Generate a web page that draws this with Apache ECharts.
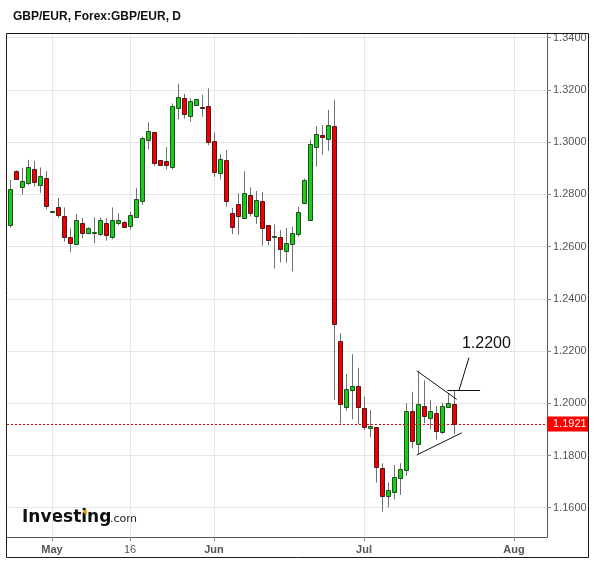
<!DOCTYPE html>
<html><head><meta charset="utf-8">
<script src="https://cdn.jsdelivr.net/npm/echarts@6/dist/echarts.min.js"></script>
<style>html,body{margin:0;padding:0;background:#fff}#c{width:598px;height:562px}</style>
</head><body><div id="c"></div>
<script>
const dates = ['2016-04-22','2016-04-24','2016-04-25','2016-04-26','2016-04-27','2016-04-28','2016-04-29',
'2016-05-01','2016-05-02','2016-05-03','2016-05-04','2016-05-05','2016-05-06',
'2016-05-08','2016-05-09','2016-05-10','2016-05-11','2016-05-12','2016-05-13',
'2016-05-15','2016-05-16','2016-05-17','2016-05-18','2016-05-19','2016-05-20',
'2016-05-22','2016-05-23','2016-05-24','2016-05-25','2016-05-26','2016-05-27',
'2016-05-29','2016-05-30','2016-05-31','2016-06-01','2016-06-02','2016-06-03',
'2016-06-05','2016-06-06','2016-06-07','2016-06-08','2016-06-09','2016-06-10',
'2016-06-12','2016-06-13','2016-06-14','2016-06-15','2016-06-16','2016-06-17',
'2016-06-19','2016-06-20','2016-06-21','2016-06-22','2016-06-23','2016-06-24',
'2016-06-27','2016-06-28','2016-06-29','2016-06-30','2016-07-01',
'2016-07-03','2016-07-04','2016-07-05','2016-07-06','2016-07-07','2016-07-08',
'2016-07-11','2016-07-12','2016-07-13','2016-07-14','2016-07-15',
'2016-07-17','2016-07-18','2016-07-19','2016-07-20',
'2016-07-21','2016-07-22','2016-07-24','2016-07-25','2016-07-26','2016-07-27','2016-07-28','2016-07-29',
'2016-07-31','2016-08-01','2016-08-02','2016-08-03','2016-08-04','2016-08-05','2016-08-07'];

const open  = [1.2684,1.2891,1.2830,1.2845,1.2899,1.2835,1.2861,1.2734,1.2753,1.2716,1.2636,1.2609,1.2689,1.2651,1.2651,1.2648,1.2692,1.2638,1.2692,1.2696,1.2680,1.2712,1.2776,1.3007,1.3037,1.2930,1.2927,1.2903,1.3130,1.3168,1.3099,1.3143,1.3134,1.3139,1.3003,1.2880,1.2930,1.2728,1.2765,1.2711,1.2796,1.2719,1.2773,1.2681,1.2637,1.2636,1.2585,1.2609,1.2647,1.2768,1.2700,1.2980,1.3026,1.3011,1.3060,1.2238,1.1984,1.2049,1.2066,1.1980,1.1904,1.1908,1.1751,1.1644,1.1661,1.1713,1.1743,1.1969,1.1843,1.1991,1.1942,1.1961,1.1889,1.1987,1.1996];
const high  = [1.2855,1.2892,1.2902,1.2932,1.2928,1.2903,1.2889,1.2737,1.2786,1.2750,1.2670,1.2725,1.2709,1.2674,1.2712,1.2711,1.2709,1.2750,1.2728,1.2699,1.2733,1.2825,1.3021,1.3075,1.3038,1.2931,1.2981,1.3148,1.3223,1.3185,1.3168,1.3165,1.3181,1.3206,1.3037,1.2954,1.2969,1.2748,1.2804,1.2889,1.2827,1.2813,1.2809,1.2682,1.2685,1.2663,1.2671,1.2676,1.2752,1.2861,1.3008,1.3061,1.3065,1.3123,1.3162,1.2268,1.2112,1.2188,1.2136,1.2025,1.1974,1.1908,1.1770,1.1696,1.1763,1.1770,1.2000,1.2044,1.2123,1.2088,1.2012,1.1989,1.2002,1.2038,1.2050];
const low   = [1.2673,1.2856,1.2799,1.2835,1.2830,1.2806,1.2743,1.2733,1.2709,1.2619,1.2579,1.2608,1.2632,1.2647,1.2613,1.2641,1.2623,1.2628,1.2682,1.2676,1.2665,1.2712,1.2760,1.2973,1.2910,1.2910,1.2896,1.2896,1.3087,1.3090,1.3078,1.3142,1.3097,1.2988,1.2867,1.2857,1.2753,1.2648,1.2646,1.2707,1.2715,1.2687,1.2604,1.2604,1.2516,1.2539,1.2539,1.2505,1.2638,1.2763,1.2700,1.2906,1.2952,1.2967,1.2012,1.1923,1.1971,1.1939,1.1919,1.1898,1.1869,1.1696,1.1585,1.1602,1.1632,1.1649,1.1722,1.1827,1.1805,1.1923,1.1900,1.1861,1.1882,1.1987,1.1882];
const close = [1.2819,1.2857,1.2851,1.2903,1.2846,1.2869,1.2754,1.2736,1.2720,1.2638,1.2612,1.2700,1.2651,1.2670,1.2654,1.2700,1.2646,1.2700,1.2701,1.2676,1.2720,1.2781,1.3015,1.3041,1.2919,1.2913,1.2911,1.3138,1.3172,1.3108,1.3156,1.3164,1.3132,1.3001,1.2884,1.2934,1.2773,1.2674,1.2716,1.2804,1.2728,1.2777,1.2670,1.2624,1.2639,1.2592,1.2613,1.2651,1.2731,1.2855,1.2991,1.3030,1.3018,1.3064,1.2303,1.1996,1.2053,1.2066,1.1984,1.1908,1.1912,1.1754,1.1646,1.1666,1.1717,1.1747,1.1972,1.1854,1.1996,1.1950,1.1969,1.1892,1.1991,1.2000,1.1921];

const yTicks = [1.16,1.18,1.20,1.22,1.24,1.26,1.28,1.30,1.32,1.34];
const xTickDates  = ['2016-05-01','2016-05-16','2016-06-01','2016-07-01','2016-08-01'];
const xTickLabels = ['May','16','Jun','Jul','Aug'];
const xTickBold   = [true,false,true,true,true];
const lastPrice = 1.1921;
const noteText = '1.2200';

const xTickIdx = xTickDates.map(d => dates.indexOf(d));
const candles = open.map((o, i) => [i, o, close[i], low[i], high[i]]);
const FONT = '"Liberation Sans", Arial, sans-serif';
const X_MIN = -0.5, X_MAX = dates.length - 0.5;

function renderCandle(params, api) {
  const i = api.value(0), o = api.value(1), c = api.value(2), l = api.value(3), h = api.value(4);
  const pO = api.coord([i, o]), pC = api.coord([i, c]), pL = api.coord([i, l]), pH = api.coord([i, h]);
  const band = api.size([1, 0])[0];
  const cx = Math.floor(pO[0]) + 0.5;
  const half = Math.max(1, Math.round(band * 0.34));
  const up = c >= o;
  let top = Math.round(Math.min(pO[1], pC[1])) + 0.5;
  let bot = Math.round(Math.max(pO[1], pC[1])) + 0.5;
  if (bot - top < 1) bot = top + 1;
  return {
    type: 'group',
    children: [
      { type: 'line', shape: { x1: cx, y1: pH[1], x2: cx, y2: pL[1] }, style: { stroke: '#707070', lineWidth: 1 } },
      { type: 'rect', shape: { x: cx - half, y: top, width: half * 2, height: bot - top },
        style: { fill: up ? '#19cc19' : '#f00000', stroke: up ? '#214d21' : '#4d1717', lineWidth: 1 } }
    ]
  };
}

const lineSt = { color: '#111', width: 1, type: 'solid' };
const chart = echarts.init(document.getElementById('c'), null, { renderer: 'canvas' });
chart.setOption({
  animation: false,
  backgroundColor: '#fff',
  grid: { left: 7, top: 33, width: 540, height: 504, containLabel: false },
  xAxis: {
    type: 'value', min: X_MIN, max: X_MAX,
    axisLine: { show: true, onZero: false, lineStyle: { color: '#555', width: 1 } },
    axisTick: { show: true, customValues: xTickIdx, length: 4, lineStyle: { color: '#888' } },
    axisLabel: {
      customValues: xTickIdx, margin: 7, color: '#555', fontSize: 11, fontFamily: FONT,
      formatter: v => {
        const k = xTickIdx.indexOf(Math.round(v));
        if (k < 0) return '';
        return xTickBold[k] ? '{b|' + xTickLabels[k] + '}' : '{n|' + xTickLabels[k] + '}';
      },
      rich: {
        b: { fontWeight: 'bold', fontSize: 11, color: '#555', fontFamily: FONT },
        n: { fontWeight: 'normal', fontSize: 11, color: '#555', fontFamily: FONT }
      }
    },
    splitLine: { show: true, lineStyle: { color: '#e6e6e6', width: 1 } }
  },
  yAxis: {
    type: 'value', position: 'right', min: 1.148775, max: 1.341800,
    axisLine: { show: true, onZero: false, lineStyle: { color: '#555', width: 1 } },
    axisTick: { show: true, customValues: yTicks, length: 4, lineStyle: { color: '#888' } },
    axisLabel: {
      customValues: yTicks, margin: 6, color: '#555', fontSize: 11, fontFamily: FONT,
      formatter: v => v.toFixed(4)
    },
    splitLine: { show: true, lineStyle: { color: '#e6e6e6', width: 1 } }
  },
  series: [{
    type: 'custom',
    renderItem: renderCandle,
    encode: { x: 0, y: [1, 2, 3, 4] },
    data: candles,
    markLine: {
      silent: true, symbol: ['none', 'none'], animation: false,
      label: { show: false },
      lineStyle: lineSt,
      data: [
        [ { coord: [X_MIN, lastPrice],
            lineStyle: { color: '#e00000', width: 1, type: [2, 2] },
            label: { show: true, position: 'end', distance: 0, formatter: () => lastPrice.toFixed(4),
                     align: 'left', verticalAlign: 'middle',
                     backgroundColor: '#ff0000', color: '#fff', fontSize: 11, lineHeight: 11,
                     padding: [2, 2, 2, 6], fontFamily: FONT } },
          { coord: [X_MAX, lastPrice] } ],
        [ { coord: [67.8, 1.2124], lineStyle: lineSt }, { coord: [74.45, 1.2015] } ],
        [ { coord: [67.8, 1.1802], lineStyle: lineSt }, { coord: [75.3, 1.1887] } ],
        [ { coord: [72.9, 1.2050], lineStyle: lineSt }, { coord: [78.35, 1.2050] } ],
        [ { coord: [74.8, 1.2047], lineStyle: lineSt }, { coord: [76.5, 1.2175] } ]
      ]
    },
    markPoint: {
      silent: true, animation: false,
      symbol: 'circle', symbolSize: 1, itemStyle: { color: 'rgba(0,0,0,0)' },
      data: [{ coord: [79.4, 1.2227],
        label: { show: true, position: 'inside', formatter: noteText, fontSize: 16, color: '#111', fontFamily: FONT } }]
    }
  }],
  graphic: [
    { type: 'rect', silent: true, z: 100, shape: { x: 6.5, y: 33.5, width: 582, height: 524 },
      style: { fill: 'none', stroke: '#1a1a1a', lineWidth: 1 } },
    { type: 'text', left: 13, top: 11, silent: true,
      style: { text: 'GBP/EUR, Forex:GBP/EUR, D', font: 'bold 12px ' + FONT, fill: '#111' } },
    { type: 'text', left: 22, top: 509, silent: true,
      style: { text: 'Investing', font: 'bold 17px "DejaVu Sans", sans-serif', fill: '#111' } },
    { type: 'rect', silent: true, z: 101, shape: { x: 83.5, y: 510, width: 3.5, height: 3.5 },
      style: { fill: '#f5a000' } },
    { type: 'text', left: 110, top: 514, silent: true,
      style: { text: '.com', font: '11px "DejaVu Sans", sans-serif', fill: '#222' } }
  ]
});
</script></body></html>
